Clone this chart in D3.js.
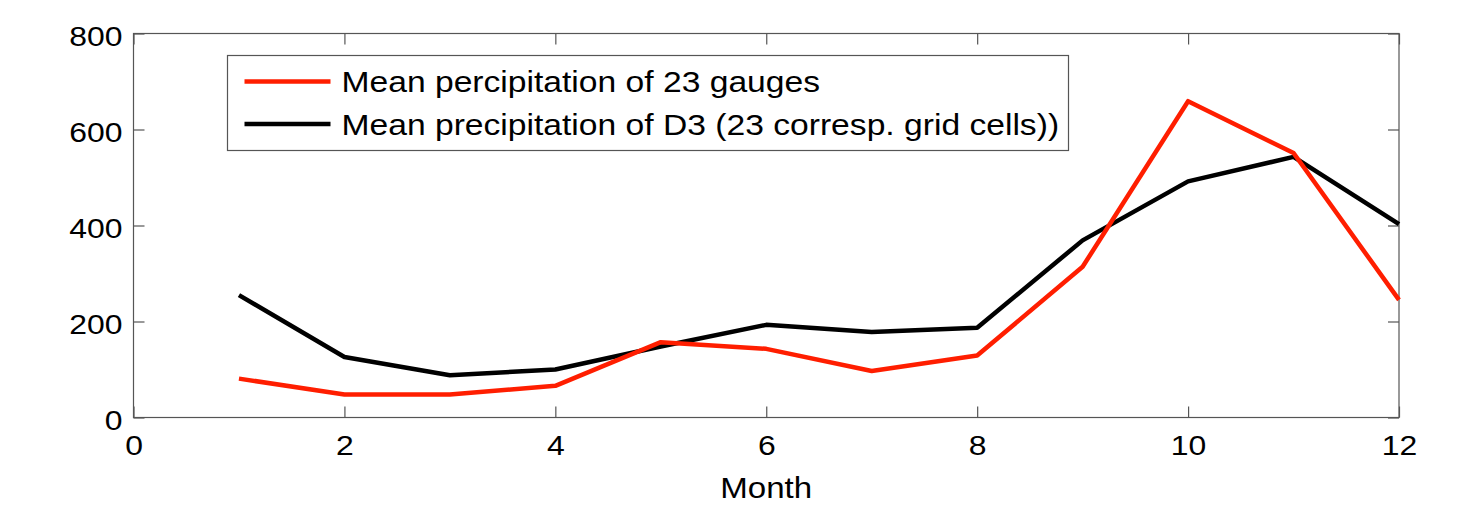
<!DOCTYPE html>
<html>
<head>
<meta charset="utf-8">
<script src="https://cdn.jsdelivr.net/npm/d3@7"></script>
<style>
  body { margin: 0; background: #fff; }
  text { font-family: "Liberation Sans", Arial, Helvetica, sans-serif; fill: #000; }
</style>
</head>
<body>
<div id="chart"></div>
<script>
// data
const months = [1, 2, 3, 4, 5, 6, 7, 8, 9, 10, 11, 12];
const gauges = [81, 48, 48, 66, 157, 143, 97, 129, 314, 659, 551, 245];
const d3grid = [255, 126, 88, 100, 148, 193, 178, 187, 369, 492, 543, 403];
const xTicks = [0, 2, 4, 6, 8, 10, 12];
const yTicks = [0, 200, 400, 600, 800];
const seriesNames = [
  "Mean percipitation of 23 gauges",
  "Mean precipitation of D3 (23 corresp. grid cells))"
];
const seriesColors = ["#ff1e00", "#000000"];

const width = 1464, height = 509;
const margin = { left: 133.5, right: 65, top: 33.5, bottom: 91.5 };
const iw = width - margin.left - margin.right;
const ih = height - margin.top - margin.bottom;
const sx = 1.14; // the original figure's text is a bit stretched sideways

const svg = d3.select("#chart").append("svg")
  .attr("width", width)
  .attr("height", height);

const g = svg.append("g").attr("transform", `translate(${margin.left},${margin.top})`);

const x = d3.scaleLinear().domain([0, 12]).range([0, iw]);
const y = d3.scaleLinear().domain([0, 800]).range([ih, 0]);

const axisColor = "#555";
const tickLen = 11;

// bottom axis, ticks inward
const xb = g.append("g").attr("transform", `translate(0,${ih})`)
  .call(d3.axisBottom(x).tickValues(xTicks).tickSizeInner(-tickLen).tickSizeOuter(0));
// top axis mirror ticks
const xt = g.append("g")
  .call(d3.axisTop(x).tickValues(xTicks).tickSizeInner(-tickLen).tickSizeOuter(0).tickFormat(""));
// left axis
const yl = g.append("g")
  .call(d3.axisLeft(y).tickValues(yTicks).tickSizeInner(-tickLen).tickSizeOuter(0));
// right axis mirror
const yr = g.append("g").attr("transform", `translate(${iw},0)`)
  .call(d3.axisRight(y).tickValues(yTicks).tickSizeInner(-tickLen).tickSizeOuter(0).tickFormat(""));

[xb, xt, yl, yr].forEach(a => {
  a.select(".domain").remove();
  a.selectAll(".tick line").attr("stroke", axisColor).attr("stroke-width", 1.2);
  a.selectAll(".tick text")
    .style("font-size", "28px")
    .style("font-family", "'Liberation Sans', Arial, sans-serif")
    .attr("fill", "#000");
});
xb.selectAll(".tick text")
  .attr("x", 0).attr("y", 0).attr("dy", null)
  .attr("transform", `translate(0,37.5) scale(${sx},1)`);
yl.selectAll(".tick text")
  .attr("x", 0).attr("dy", "0.36em")
  .attr("transform", `translate(-11,1.5) scale(${sx},1)`);

// frame
g.append("rect")
  .attr("x", 0).attr("y", 0)
  .attr("width", iw).attr("height", ih)
  .attr("fill", "none")
  .attr("stroke", axisColor)
  .attr("stroke-width", 1.2);

// axis title
g.append("text")
  .attr("transform", `translate(${iw / 2},${ih + 80}) scale(${sx},1)`)
  .attr("text-anchor", "middle")
  .style("font-size", "29px")
  .text("Month");

// lines
const line = d3.line().x((d, i) => x(months[i])).y(d => y(d));

g.append("path")
  .datum(d3grid)
  .attr("d", line)
  .attr("fill", "none")
  .attr("stroke", seriesColors[1])
  .attr("stroke-width", 4.5)
  .attr("stroke-linejoin", "round");

g.append("path")
  .datum(gauges)
  .attr("d", line)
  .attr("fill", "none")
  .attr("stroke", seriesColors[0])
  .attr("stroke-width", 4.5)
  .attr("stroke-linejoin", "round");

// legend
const lg = svg.append("g").attr("transform", "translate(227.5,55.5)");
lg.append("rect")
  .attr("width", 841)
  .attr("height", 95)
  .attr("fill", "#fff")
  .attr("stroke", axisColor)
  .attr("stroke-width", 1.2);

seriesNames.forEach((name, i) => {
  const yy = 26 + i * 42.5;
  lg.append("line")
    .attr("x1", 17).attr("x2", 103)
    .attr("y1", yy).attr("y2", yy)
    .attr("stroke", seriesColors[i])
    .attr("stroke-width", 4.5);
  lg.append("text")
    .attr("transform", `translate(114,${yy}) scale(${sx},1)`)
    .attr("dy", "0.36em")
    .style("font-size", "29.5px")
    .text(name);
});
</script>
</body>
</html>
